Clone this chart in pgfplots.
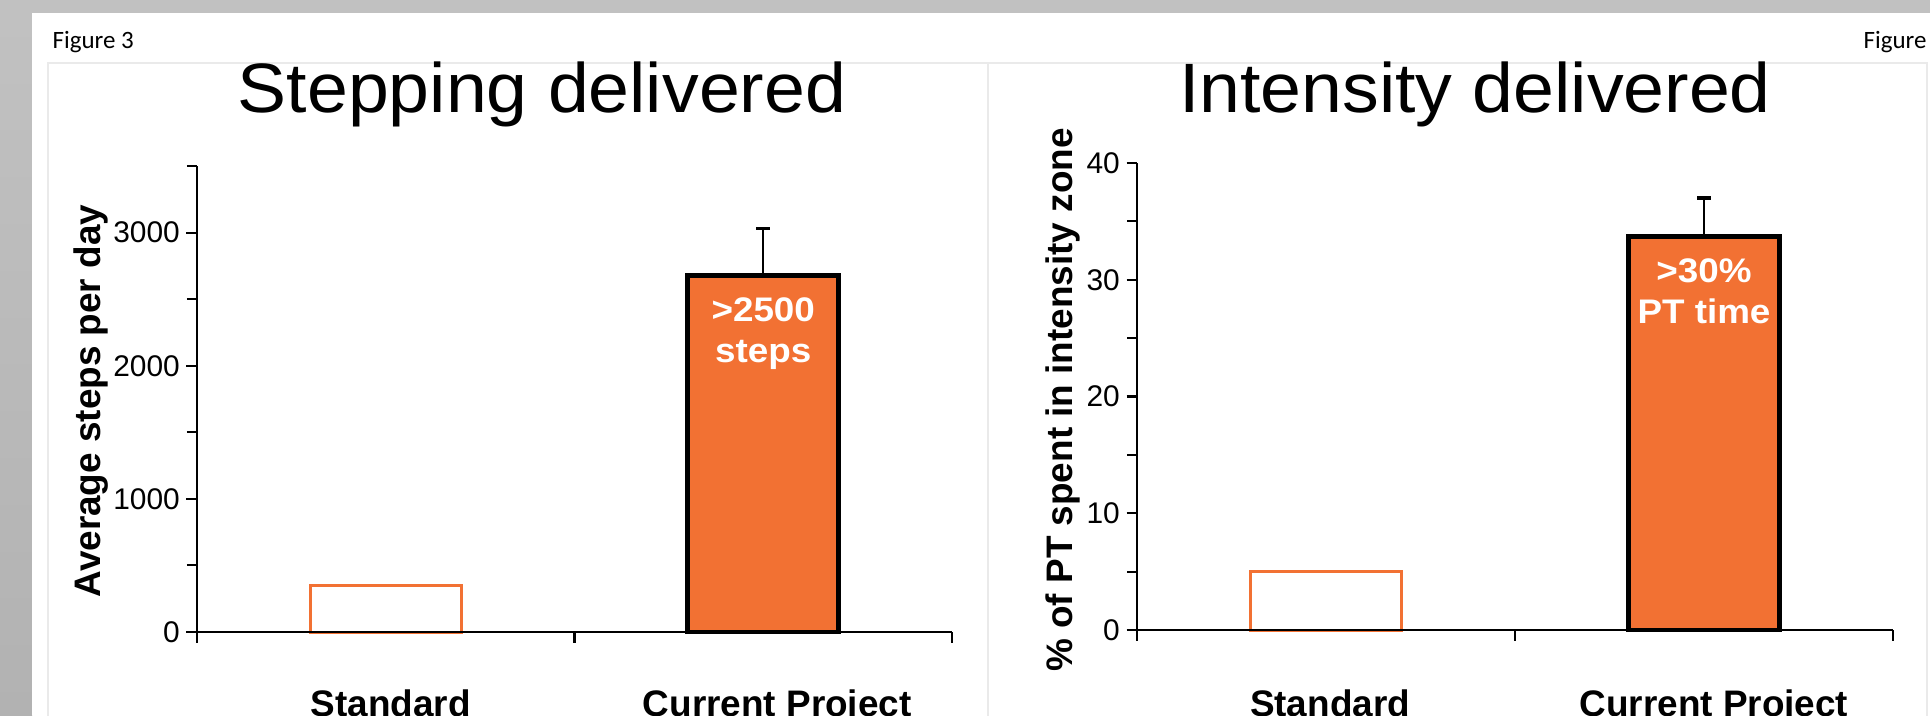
\documentclass[border=0pt]{standalone}
\usepackage{fontspec}
\setmainfont{Liberation Sans}
\newfontfamily\titlefont[FakeStretch=1.05]{Liberation Sans}
\newfontfamily\barfont[FakeStretch=1.08]{Liberation Sans}
\newfontfamily\slidefont{Carlito}
\usepackage{pgfplots}
\pgfplotsset{compat=1.18}

\definecolor{barorange}{RGB}{242,113,51}
\definecolor{slidegray}{RGB}{193,193,193}
\definecolor{slidegraydark}{RGB}{178,178,178}
\definecolor{framegray}{RGB}{234,234,234}

\pgfplotsset{
  panel/.style={
    scale only axis,
    xmin=-0.5, xmax=1.5, ymin=0,
    axis x line*=bottom, axis y line*=left,
    axis line style={line width=0.6pt, black},
    every tick/.style={black, line width=0.6pt},
    tick align=outside,
    major tick length=1.05mm, minor tick length=1.0mm,
    xtick={-0.5,0.5,1.5}, xticklabels={},
    ticklabel style={font=\fontsize{8.5}{10}\selectfont},
    yticklabel style={inner sep=0.6mm},
    /pgf/number format/assume math mode=true,
    /pgf/number format/1000 sep={},
    clip=false, axis on top,
  },
  hollowbar/.style={ybar, bar width=0.4, bar shift=0pt, draw=barorange,
    line width=0.85pt, fill=white},
  fullbar/.style={ybar, bar width=0.4, bar shift=0pt, draw=black,
    line width=1.4pt, fill=barorange,
    error bars/.cd, y dir=plus, y explicit,
    error bar style={line width=0.55pt, black},
    error mark options={rotate=90, line width=0.9pt, mark size=0.7mm, black}},
}
\tikzset{
  catlabel/.style={anchor=base, font=\bfseries\fontsize{10.5}{12}\selectfont},
  barlabel/.style={anchor=north, align=center, text=white, inner sep=0pt,
    font=\barfont\bfseries\fontsize{9.7}{11.7}\selectfont},
}

\begin{document}
\begin{tikzpicture}
\useasboundingbox (0,0) rectangle (193mm,71.5mm);
\clip (0,0) rectangle (193mm,71.5mm);

% slide background
\fill[slidegray] (0,0) rectangle (193mm,71.5mm);
\shade[top color=slidegray, bottom color=slidegraydark] (0,0) rectangle (3.2mm,70.2mm);
\fill[white] (3.2mm,0) rectangle (193mm,70.2mm);
\draw[framegray, line width=0.5pt] (4.8mm,-1mm) -- (4.8mm,65.2mm) -- (192.7mm,65.2mm) -- (192.7mm,-1mm);
\draw[framegray, line width=0.5pt] (98.8mm,-1mm) -- (98.8mm,65.2mm);

\node[anchor=base west, inner sep=0pt, font=\slidefont\fontsize{7.1}{8}\selectfont] at (5.2mm,66.7mm) {Figure 3};
\node[anchor=base west, inner sep=0pt, font=\slidefont\fontsize{7.1}{8}\selectfont] at (186.3mm,66.7mm) {Figure};

% titles and axis titles
\node[anchor=base, inner sep=0pt, font=\titlefont\fontsize{19.9}{22}\selectfont] at (54.2mm,60.3mm) {Stepping delivered};
\node[anchor=base, inner sep=0pt, font=\titlefont\fontsize{19.9}{22}\selectfont] at (147.5mm,60.3mm) {Intensity delivered};
\node[rotate=90, anchor=base, inner sep=0pt, font=\bfseries\fontsize{10.5}{12}\selectfont] at (10.0mm,31.4mm) {Average steps per day};
\node[rotate=90, anchor=base, inner sep=0pt, font=\bfseries\fontsize{10.5}{12}\selectfont] at (107.2mm,31.5mm) {\% of PT spent in intensity zone};

% stepping panel
\begin{axis}[panel, at={(19.7mm,8.3mm)}, anchor=south west,
  width=75.5mm, height=46.6mm, ymax=3500,
  ytick={0,1000,2000,3000}, minor ytick={500,1500,2500,3500}]
  \addplot[hollowbar] coordinates {(0,350)};
  \addplot[fullbar] coordinates {(1,2680) +- (0,350)};
  \node[barlabel] at (axis cs:1,2520) {>2500\\steps};
  \node[catlabel, xshift=0.5mm, yshift=-8.4mm] at (axis cs:0,0) {Standard};
  \node[catlabel, xshift=1.4mm, yshift=-8.4mm] at (axis cs:1,0) {Current Project};
\end{axis}

% intensity panel
\begin{axis}[panel, at={(113.7mm,8.5mm)}, anchor=south west,
  width=75.6mm, height=46.7mm, ymax=40,
  ytick={0,10,20,30,40}, minor ytick={5,15,25,35}]
  \addplot[hollowbar] coordinates {(0,5.0)};
  \addplot[fullbar] coordinates {(1,33.7) +- (0,3.3)};
  \node[barlabel] at (axis cs:1,31.9) {>30\%\\PT time};
  \node[catlabel, xshift=0.4mm, yshift=-8.6mm] at (axis cs:0,0) {Standard};
  \node[catlabel, xshift=1.0mm, yshift=-8.6mm] at (axis cs:1,0) {Current Project};
\end{axis}
\end{tikzpicture}
\end{document}
